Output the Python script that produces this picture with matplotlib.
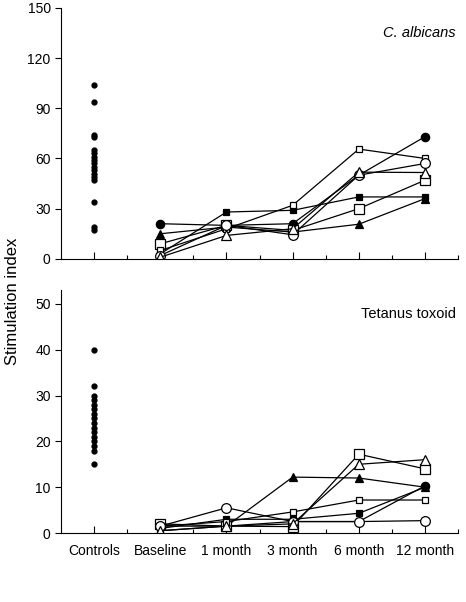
import numpy as np
import matplotlib.pyplot as plt
from matplotlib.ticker import MultipleLocator

plt.rcParams['font.family'] = ['Liberation Sans', 'DejaVu Sans']

categories = ["Controls", "Baseline", "1 month", "3 month", "6 month", "12 month"]

# controls (single column of dots)
ctrl_candida = [104, 94, 74, 73, 65, 63, 61, 59, 57, 55, 53, 51, 49, 47, 34, 19, 17]
ctrl_tetanus = [40, 32, 30, 29, 28, 27, 26, 25, 24, 23, 22, 21, 20, 19, 18, 15]

# patients: Baseline, 1, 3, 6, 12 month
candida = {
    "A": [21, 20, 21, 50, 73],
    "B": [15, 19, 16, 20.7, 36],
    "C": [3, 28, 29, 37, 37],
    "D": [9, 20, 17, 30, 47],
    "E": [5, 18, 32, 65.6, 60],
    "F": [2, 20, 14.4, 50, 57],
    "G": [1, 14, 18, 51.8, 51.6],
}
tetanus = {
    "A": [1.5, 1.5, 2.5, 2.5, 10.3],
    "B": [0.5, 1.5, 12.2, 12, 10],
    "C": [1, 3, 3, 4.3, 10],
    "D": [2, 1.5, 1.4, 17.2, 14],
    "E": [1.5, 2.5, 4.6, 7.2, 7.2],
    "F": [1.5, 5.5, 2.5, 2.5, 2.7],
    "G": [0.5, 1.5, 2, 15, 16],
}

styles = {
    "A": dict(marker="o", ms=6, mfc="black"),
    "B": dict(marker="^", ms=6, mfc="black"),
    "C": dict(marker="s", ms=4, mfc="black"),
    "D": dict(marker="s", ms=7, mfc="white"),
    "E": dict(marker="s", ms=5, mfc="white"),
    "F": dict(marker="o", ms=7, mfc="white"),
    "G": dict(marker="^", ms=7, mfc="white"),
}

fig = plt.figure(figsize=(4.66, 6.02), dpi=100)
ax1 = fig.add_axes([0.131, 0.570, 0.852, 0.417])
ax2 = fig.add_axes([0.131, 0.1146, 0.852, 0.4034])

x_pat = np.arange(2, 7)


def draw(ax, ctrl, pats, ylim, step, label):
    ax.plot([1] * len(ctrl), ctrl, "o", color="black", ms=3.5, ls="none")
    for k, vals in pats.items():
        ax.plot(x_pat, vals, color="black", lw=0.9, mec="black", mew=0.9, **styles[k])
    ax.set_xlim(0.5, 6.5)
    ax.set_ylim(*ylim)
    ax.yaxis.set_major_locator(MultipleLocator(step))
    ax.set_xticks(range(1, 7))
    ax.set_xticks(np.arange(1.5, 7, 1), minor=True)
    ax.spines["top"].set_visible(False)
    ax.spines["right"].set_visible(False)
    ax.tick_params(axis="x", direction="in", length=5, width=0.8, pad=8)
    ax.tick_params(axis="x", which="minor", direction="in", length=3, width=0.8)
    ax.tick_params(axis="y", direction="out", length=4, width=0.8, labelsize=10)
    ax.text(0.995, 0.9, label, transform=ax.transAxes, ha="right", va="center", fontsize=10.5,
            style="italic" if label.startswith("C.") else "normal")


draw(ax1, ctrl_candida, candida, (0, 150), 30, "C. albicans")
draw(ax2, ctrl_tetanus, tetanus, (0, 53), 10, "Tetanus toxoid")
ax2.set_yticks(range(0, 51, 10))
ax1.set_xticklabels([])
ax2.set_xticklabels(categories, fontsize=10)

fig.text(0.026, 0.5, "Stimulation index", rotation=90, ha="center", va="center", fontsize=12)

fig.savefig("out.png", dpi=100)
